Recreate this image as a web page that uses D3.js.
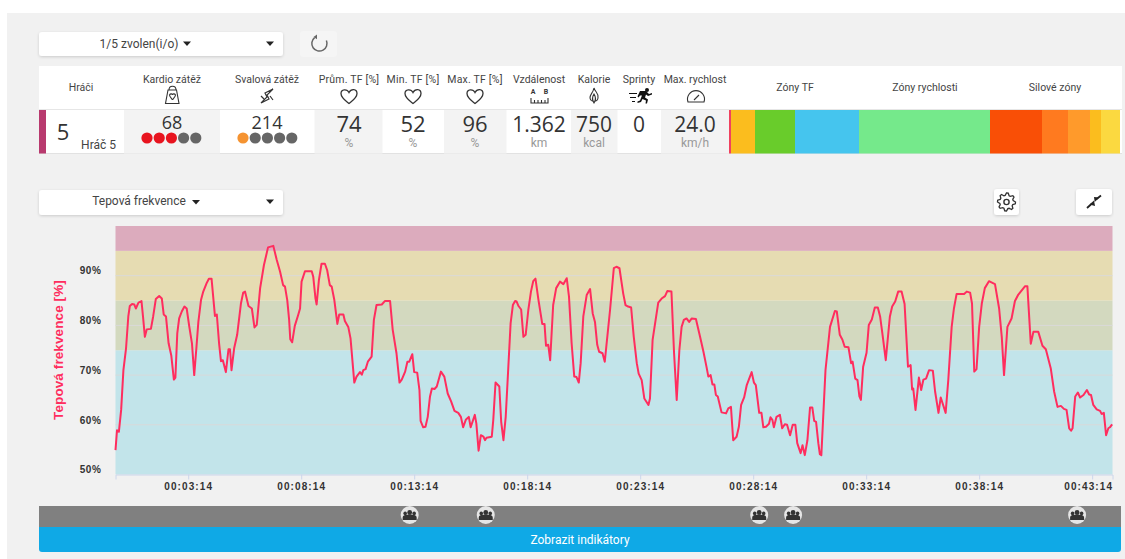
<!DOCTYPE html>
<html>
<head>
<meta charset="utf-8">
<script src="https://cdnjs.cloudflare.com/ajax/libs/d3/7.8.5/d3.min.js"></script>
<style>
  html, body { margin: 0; padding: 0; background: #fff; overflow: hidden; }
  svg { display: block; font-family: Roboto, "Liberation Sans", sans-serif; }
</style>
</head>
<body>
<div id="chart"></div>
<script>
// seconds from the start of the session
var seconds = [0,4,9,15,21,28,34,38,44,50,54,61,69,73,78,83,94,100,107,116,123,128,134,141,148,155,159,164,169,176,183,189,196,203,209,215,220,227,233,242,248,255,264,269,275,280,285,293,300,304,308,315,323,333,339,344,353,362,369,375,384,394,405,419,428,437,445,450,456,461,464,469,476,485,490,494,503,521,525,531,534,540,547,556,562,569,574,581,589,594,605,609,618,624,634,640,649,654,658,664,670,680,686,693,707,715,729,736,746,754,760,769,775,780,788,793,801,807,810,817,823,829,835,840,847,853,864,873,882,891,900,910,917,923,930,938,943,954,958,964,970,977,981,985,999,1003,1009,1019,1024,1030,1036,1043,1049,1055,1061,1065,1070,1077,1083,1089,1096,1103,1109,1115,1123,1133,1139,1143,1149,1154,1162,1170,1180,1189,1198,1204,1211,1218,1224,1230,1235,1242,1251,1260,1267,1273,1279,1284,1293,1299,1313,1323,1330,1338,1348,1354,1361,1369,1376,1384,1389,1397,1404,1415,1419,1426,1432,1441,1450,1459,1465,1476,1483,1490,1497,1503,1509,1516,1523,1530,1541,1552,1561,1569,1574,1580,1585,1590,1594,1599,1609,1621,1627,1634,1640,1649,1655,1661,1669,1676,1689,1695,1700,1709,1715,1720,1727,1735,1739,1744,1748,1755,1764,1770,1777,1783,1791,1798,1805,1810,1819,1824,1830,1837,1844,1850,1855,1860,1866,1870,1874,1885,1897,1910,1915,1923,1930,1936,1946,1953,1957,1964,1970,1975,1979,1985,1994,2000,2008,2016,2024,2030,2036,2045,2056,2062,2070,2078,2087,2095,2104,2111,2115,2118,2124,2133,2139,2145,2152,2160,2170,2176,2185,2191,2204,2211,2220,2226,2233,2253,2260,2269,2274,2280,2286,2293,2300,2308,2319,2335,2346,2353,2359,2368,2379,2388,2397,2415,2421,2430,2437,2450,2461,2470,2483,2492,2501,2510,2518,2525,2532,2537,2541,2548,2555,2561,2570,2579,2585,2590,2596,2605,2614,2618,2624,2630,2636,2640,2646];
// heart rate in % of max
var heartRate = [54.9,58.9,58.6,63,71,75.4,81.8,83.9,84.3,84.2,83.4,84.6,84.9,81.8,77.7,79.2,79.3,81.8,85.3,85.9,85.4,82.2,81.8,76.4,74,69.1,69.5,78.4,81.4,82.8,83.8,83.4,79.7,76.4,70,75.7,80.7,85.1,86.8,88.5,89.4,89.4,81.9,82.2,76.4,72.8,73,70.6,75.2,75.2,71,75.4,78.1,84.4,86.6,86.8,83.9,83.4,79.6,80.1,87.5,92.1,95.7,96,93.2,90.8,88.1,87.8,85.1,81.1,77.2,76.6,79.9,82.1,83.4,88.8,90.9,90.9,89.8,85.4,84.2,89.1,92.4,92.4,91.1,88.1,87.8,85.1,80.3,82.2,82.2,80.9,79.7,77.4,68.5,69.7,70.6,70.1,71,71.2,72.7,73.7,81.1,84.1,84.2,84.9,84.9,79.1,74.4,68.5,69.1,70.7,72.7,72.7,74.2,70.6,70.5,67,60.8,59.5,59.6,61.6,65.7,67.3,67.2,67.7,70.7,69.7,66.3,64.7,62.8,62.4,61.6,59.5,61,61.6,59.5,62,60.3,54.8,57.9,57.6,56.9,57.4,57.6,61,68.5,67.7,60.6,56.9,61.6,71.7,80.4,84.1,84.9,84.8,83.9,83.2,77.7,78.1,83.1,86.8,88.9,89.4,85.1,80.3,80.3,75.9,76.1,73,84.1,87.5,88.8,88.3,89.5,85.8,76.4,69.7,69.6,68.5,72.4,81.8,86.1,87.3,82.4,80.7,76.1,74.7,74.4,72.7,83.1,91.5,91.8,91.5,86.4,84.1,83.8,83.6,77.7,72.4,70.3,69,65.3,64,65.3,77.1,80.1,84.6,85.4,85.9,86.9,86.8,74.4,65,75,79.7,81.1,81.4,80.7,81.4,81.3,77.7,74.7,71.7,69.7,70,68.1,68.1,66,65.7,62.5,62.3,63.3,63.6,56.9,57.6,59.6,64,65.5,68,70.6,68.5,68,62.4,62.4,59.5,59.6,60.2,61.5,61,59.5,61.6,62,59.3,60.1,60,57.9,60,60,56.3,54.3,55.9,53.9,56.9,63.5,63.5,60.8,60.6,56.3,54.1,53.9,71,79.7,82.9,82.8,78.1,77.1,75.7,75.6,72.4,72.7,69.3,69,65.7,65,71.7,74.5,80.1,81.2,83.6,83.6,81.8,78.4,73,81.8,83.8,84.8,86.8,86.8,84.3,71.7,72,67.1,67.3,63,69.5,67,69.1,69.3,71,70.9,66.7,62.4,65.5,62.4,69,79.7,83.4,86.3,86.3,86.8,86.6,84.4,70.7,71.2,79.7,84.4,87.5,88.9,88.3,83.4,77.7,70,79.7,81.4,84.9,86.2,87.9,87.9,76.3,78.7,78.7,75.9,75.2,71.4,66.7,63.6,63.8,63.2,63,59.3,58.8,59.3,65.7,66.5,65.5,66,67,66.1,66,64,63.1,62.8,62.2,62.4,57.9,59.3,59.5,60.1];

var tickSeconds = [193,493,793,1093,1393,1693,1993,2293,2593];
var tickLabels = ["00:03:14","00:08:14","00:13:14","00:18:14","00:23:14","00:28:14","00:33:14","00:38:14","00:43:14"];
var yTicks = [50,60,70,80,90];
var bandEdges = [50,75,85,95,100];
var bandColors = ["#c2e4ea","#d3d9bf","#e6dcb2","#dcabbd"];
var indicatorSeconds = [781,983,1709,1799,2553];

// table columns
var headers = ["Hráči","Kardio zátěž","Svalová zátěž","Prům. TF [%]","Min. TF [%]","Max. TF [%]","Vzdálenost","Kalorie","Sprinty","Max. rychlost"];
var values = ["","68","214","74","52","96","1.362","750","0","24.0"];
var units = ["","","","%","%","%","km","kcal","",  "km/h"];

var hrZones = [2,24,40,64];
var speedZones = [131];
var powerZones = [52,26,22,11,19];
var hrZoneColors = ["#f0415f","#fbbd1e","#69cc2b","#45c5ee"];
var speedZoneColors = ["#75e98b"];
var powerZoneColors = ["#f94f06","#ff7a1f","#ff9a2b","#fbbd1e","#fbd940"];

var width = 1125, height = 559;
var svg = d3.select("#chart").append("svg").attr("width", width).attr("height", height);

var defs = svg.append("defs");
var shadow = defs.append("filter").attr("id", "sh").attr("x", "-5%").attr("y", "-20%").attr("width", "110%").attr("height", "150%");
shadow.append("feDropShadow").attr("dx", 0).attr("dy", 1).attr("stdDeviation", 1.5).attr("flood-color", "#000").attr("flood-opacity", 0.16);

svg.append("rect").attr("x", 7).attr("y", 13).attr("width", width - 7).attr("height", height - 13).attr("fill", "#f1f1f1");

function label(g, x, y, txt, size, color, anchor) {
  return g.append("text").attr("x", x).attr("y", y).attr("text-anchor", anchor || "middle")
    .attr("font-size", size).attr("fill", color || "#444").text(txt);
}
function caret(g, cx, cy) {
  g.append("path").attr("d", "M" + (cx - 4) + "," + (cy - 2) + "h8l-4,4.5z").attr("fill", "#222");
}
function button(x, y, w, h, fill) {
  return svg.append("rect").attr("x", x).attr("y", y).attr("width", w).attr("height", h).attr("rx", 3)
    .attr("fill", fill || "#fff").attr("filter", "url(#sh)");
}

// top dropdown + refresh
button(39, 32, 244, 24);
label(svg, 139, 48, "1/5 zvolen(i/o)", 12, "#444");
caret(svg, 187, 43.5);
caret(svg, 270, 43.5);
svg.append("rect").attr("x", 300).attr("y", 31).attr("width", 37).attr("height", 26).attr("rx", 3).attr("fill", "#f5f5f5");
svg.append("path").attr("d", "M314.6,37.6A7.6,7.6 0 1 0 326.4,40.5").attr("fill", "none").attr("stroke", "#666").attr("stroke-width", 1.5);
svg.append("path").attr("d", "M317,34.5l-3.5,2.5l3.5,2.2z").attr("fill", "#666");

// table
var colEdges = [39,124,220,314.5,382.5,444,506.5,571,617.5,661,729];
var colCentres = [81,172,267,349,413,475,539,594,639,695];
svg.append("rect").attr("x", 39).attr("y", 66).attr("width", 1083).attr("height", 43).attr("fill", "#fff");
svg.append("rect").attr("x", 39).attr("y", 110).attr("width", 1083).attr("height", 43.5).attr("fill", "#fff");
svg.append("line").attr("x1", 39).attr("x2", 1122).attr("y1", 109.5).attr("y2", 109.5).attr("stroke", "#e6e6e6");
svg.append("line").attr("x1", 39).attr("x2", 1122).attr("y1", 153.5).attr("y2", 153.5).attr("stroke", "#e2e2e2");
svg.append("rect").attr("x", 39).attr("y", 110).attr("width", 7).attr("height", 43.5).attr("fill", "#b83a6e");

svg.selectAll("rect.cell").data(d3.range(1, 10).filter(function(i) { return i % 2 == 1; })).enter().append("rect")
  .attr("class", "cell")
  .attr("x", function(i) { return colEdges[i]; })
  .attr("y", 110)
  .attr("width", function(i) { return colEdges[i + 1] - colEdges[i]; })
  .attr("height", 43.5)
  .attr("fill", "#f3f3f3");

headers.forEach(function(h, i) {
  var t = label(svg, colCentres[i], i == 0 ? 91 : 83, h, 10.5, "#444");
  if (i >= 3 && i <= 5) t.attr("letter-spacing", "0.2px");
  if (values[i] !== "") {
    var small = i < 3;
    label(svg, colCentres[i], small ? 129 : 132, values[i], small ? 18 : (i >= 6 ? 21 : 22), "#333").style("font-family", "'Open Sans', sans-serif");
  }
  if (units[i] !== "") label(svg, colCentres[i], 147, units[i], 12, "#999");
});
label(svg, 63, 140, "5", 22, "#333").style("font-family", "'Open Sans', sans-serif");
label(svg, 116, 149, "Hráč 5", 12, "#444", "end");

// load dots
var cardioDots = ["#e8141f","#e8141f","#e8141f","#666","#666"];
var muscleDots = ["#f59331","#666","#666","#666","#666"];
[[cardioDots, 147], [muscleDots, 243]].forEach(function(p) {
  svg.selectAll(null).data(p[0]).enter().append("circle")
    .attr("cx", function(d, i) { return p[1] + i * 12.2; })
    .attr("cy", 138).attr("r", 5.6).attr("fill", function(d) { return d; });
});

// header icons
var ic = svg.append("g").attr("fill", "none").attr("stroke", "#333").attr("stroke-width", 1.1);
ic.append("path").attr("d", "M168,90l-2.5,13.5h13.5l-2.5,-13.5zM169,90c0,-5 7,-5 7,0M169.5,95c1,-2 3,-1 3,0c0,-1 2,-2 3,0c0,2 -3,4 -3,5c0,-1 -3,-3 -3,-5z");
ic.append("path").attr("d", "M273,89l-8,4l2,4l-6,6l8,-4l-2,-4zM261,96l3,3M270,96l3,4").attr("stroke-width", 1.2);
[349,413,475].forEach(function(cx) {
  ic.append("path").attr("transform", "translate(" + cx + ",96)")
    .attr("d", "M0,7.5C-3,5 -8,2 -8,-2.5C-8,-7 -2,-7.5 0,-3.5C2,-7.5 8,-7.5 8,-2.5C8,2 3,5 0,7.5z").attr("stroke-width", 1.3);
});
label(svg, 533, 94, "A", 7, "#333").attr("font-weight", "bold");
label(svg, 546, 94, "B", 7, "#333").attr("font-weight", "bold");
ic.append("path").attr("d", "M531,98v5h17v-5M534.5,100v3M538,100v3M541.5,100v3M545,100v3");
ic.append("path").attr("d", "M594,88c1,4 5,5 4,10c-0.5,4 -7,5 -8,0c-0.5,-3 3,-5 4,-10zM594,94c-2,3 -2,6 0,9c2,-3 2,-6 0,-9z");
svg.append("g").attr("fill", "#111").call(function(g) {
  g.append("circle").attr("cx", 647).attr("cy", 90).attr("r", 2);
  g.append("path").attr("d", "M640,91l6,0l3,3l3,-1l0,1.5l-4,1.5l-2,-1.5l-1,3l3,2l-1,4l-1.5,0l0.5,-3l-3.5,-1.5l-1.5,3l-3.5,1l0,-1.5l2.5,-1l2,-5l-2,0l-1.5,2l-1,-1z");
  g.append("path").attr("d", "M629,93h8v1h-8zM630,97h6v1h-6zM632,101h3v1h-3z");
});
ic.append("path").attr("d", "M688,102a8.5,8.5 0 1 1 16,0zM694,100l5,-5");

// zone strips
function zoneStrip(vals, colors, x0, x1) {
  var xs = d3.scaleLinear().domain([0, d3.sum(vals)]).range([x0, x1]);
  var run = d3.cumsum(vals);
  svg.selectAll(null).data(vals).enter().append("rect")
    .attr("x", function(d, i) { return xs(run[i] - d); })
    .attr("y", 110).attr("height", 43.5)
    .attr("width", function(d) { return xs(d) - xs(0); })
    .attr("fill", function(d, i) { return colors[i]; });
}
zoneStrip(hrZones, hrZoneColors, 729, 859);
zoneStrip(speedZones, speedZoneColors, 859, 990);
zoneStrip(powerZones, powerZoneColors, 990, 1120);
label(svg, 795, 91, "Zóny TF", 10.5);
label(svg, 925, 91, "Zóny rychlosti", 10.5);
label(svg, 1055, 91, "Silové zóny", 10.5);

// second row of controls
button(39, 190, 244, 25);
label(svg, 139, 205, "Tepová frekvence", 12, "#444");
caret(svg, 196, 202);
caret(svg, 270, 201.5);
button(994, 189, 25, 26);
button(1076, 189, 36, 26);
svg.append("circle").attr("cx", 1006.5).attr("cy", 202).attr("r", 2.6).attr("fill", "none").attr("stroke", "#333").attr("stroke-width", 1.4);
svg.append("path").attr("transform", "translate(1006.5,202)")
  .attr("d", d3.lineRadial().curve(d3.curveLinearClosed)(d3.range(32).map(function(i) {
    return [i * Math.PI / 16, i % 4 < 2 ? 9 : 6.8];
  })))
  .attr("fill", "none").attr("stroke", "#333").attr("stroke-width", 1.3);
svg.append("path").attr("d", "M1087,208l5,-4.5M1096,199.5l5,-4").attr("stroke", "#222").attr("stroke-width", 1.8);
svg.append("path").attr("d", "M1095,206l-1,-5.5l-4.5,4zM1094,197l0.7,5l4.5,-4.5z").attr("fill", "#222");

// main chart
var margin = {left: 115.5, right: 12.5, top: 226, bottom: 84.5};
var x = d3.scaleLinear().domain([0, 2647]).range([margin.left, width - margin.right]);
var y = d3.scaleLinear().domain([50, 100]).range([height - margin.bottom, margin.top]);

svg.selectAll("rect.band").data(bandColors).enter().append("rect")
  .attr("class", "band")
  .attr("x", x(0))
  .attr("width", x(2647) - x(0))
  .attr("y", function(d, i) { return y(bandEdges[i + 1]); })
  .attr("height", function(d, i) { return y(bandEdges[i]) - y(bandEdges[i + 1]); })
  .attr("fill", function(d) { return d; });

svg.selectAll("line.grid").data(yTicks.slice(1)).enter().append("line")
  .attr("class", "grid")
  .attr("x1", x(0)).attr("x2", x(2647))
  .attr("y1", function(d) { return y(d); }).attr("y2", function(d) { return y(d); })
  .attr("stroke", "#d9d9d9").attr("stroke-width", 1);

var line = d3.line()
  .x(function(d, i) { return x(seconds[i]); })
  .y(function(d) { return y(d); });
svg.append("path").datum(heartRate)
  .attr("d", line)
  .attr("fill", "none").attr("stroke", "#ff2d5e").attr("stroke-width", 2).attr("stroke-linejoin", "round");

var xAxis = svg.append("g")
  .attr("transform", "translate(0," + y(50) + ")")
  .call(d3.axisBottom(x).tickValues(tickSeconds).tickFormat(function(d, i) { return tickLabels[i]; }).tickSize(5).tickPadding(3.5));
xAxis.select(".domain").attr("stroke", "#ccd6eb");
xAxis.selectAll(".tick line").attr("stroke", "#ccd6eb");
xAxis.selectAll("text").attr("font-size", 10).attr("font-weight", "bold").attr("letter-spacing", "1.1px").attr("fill", "#333")
  .style("font-family", "'Liberation Sans', sans-serif");
// last label is kept inside the plot
xAxis.selectAll(".tick:last-of-type text").attr("dx", -4);

var yAxis = svg.append("g")
  .attr("transform", "translate(" + x(0) + ",0)")
  .call(d3.axisLeft(y).tickValues(yTicks).tickFormat(function(d) { return d + "%"; }).tickSize(0).tickPadding(14));
yAxis.select(".domain").remove();
yAxis.selectAll("text").attr("font-size", 10).attr("font-weight", "bold").attr("letter-spacing", "0.6px").attr("fill", "#333")
  .attr("dy", "-0.18em")
  .style("font-family", "'Liberation Sans', sans-serif");

svg.append("text").attr("transform", "translate(62.5,350) rotate(-90)")
  .attr("text-anchor", "middle").attr("font-size", 13.5).attr("font-weight", "bold").attr("fill", "#ff2d5e")
  .attr("letter-spacing", "0.1px")
  .style("font-family", "'Liberation Sans', sans-serif").text("Tepová frekvence [%]");

// indicator strip
svg.append("rect").attr("x", 39).attr("y", 506).attr("width", 1082).attr("height", 21).attr("fill", "#808080");
var ind = svg.selectAll("g.ind").data(indicatorSeconds).enter().append("g")
  .attr("class", "ind")
  .attr("transform", function(d) { return "translate(" + x(d) + ",515)"; });
ind.append("circle").attr("r", 9).attr("fill", "#e6e6e6");
ind.append("path").attr("fill", "#333")
  .attr("d", "M-7,5v-2.5c0,-2 3,-3 4.5,-2.5c0.5,-1 4.5,-1 5,0c1.5,-0.5 4.5,0.5 4.5,2.5v2.5z");
ind.append("circle").attr("cy", -2.6).attr("r", 2.4).attr("fill", "#333");
ind.append("circle").attr("cx", -4.5).attr("cy", -1.6).attr("r", 1.8).attr("fill", "#333");
ind.append("circle").attr("cx", 4.5).attr("cy", -1.6).attr("r", 1.8).attr("fill", "#333");

// blue button
svg.append("path").attr("d", "M39,527H1121V549a3,3 0 0 1 -3,3H42a3,3 0 0 1 -3,-3z").attr("fill", "#0fa9e6");
label(svg, 580, 544, "Zobrazit indikátory", 12, "#fff");
</script>
</body>
</html>
